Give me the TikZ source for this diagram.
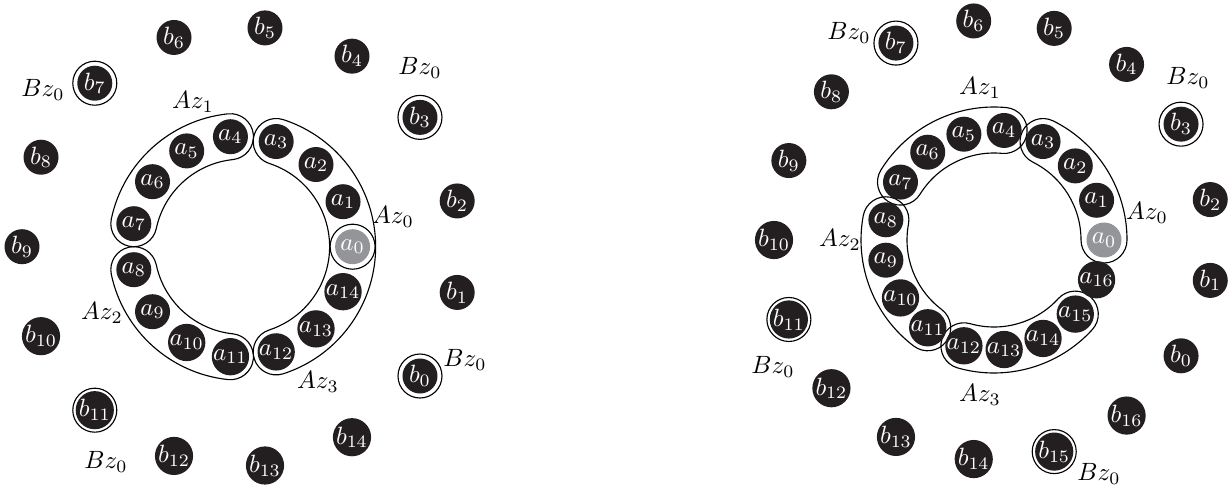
\documentclass[tikz,border=0pt]{standalone}
\usepackage{amsmath}
\usetikzlibrary{positioning}
\definecolor{dotblack}{RGB}{35,31,32}
\definecolor{dotgrey}{RGB}{147,149,152}
\tikzset{
  dot/.style={circle, fill=dotblack, text=white, minimum size=14pt, inner sep=0pt},
  zone/.style={draw, line width=0.45pt}
}

\begin{document}
\begin{tikzpicture}[x=0.4pt, y=0.4pt]
  \useasboundingbox (0,0) rectangle (1231,487);
  \begin{scope}[shift={(242,240.3)}]
    \foreach \s/\e in {-72/72, 96/168, 192/264}{
      \draw[zone] (\s:87.6) arc[start angle={\s+180}, end angle={\s+360}, radius=23]
        arc[start angle=\s, end angle=\e, radius=133.6]
        arc[start angle=\e, end angle={\e+180}, radius=23]
        arc[start angle=\e, end angle=\s, radius=87.6] -- cycle;
    }
    \node[dot, fill=dotgrey] (La0) at (0:110.6) {$a_{0}$};
    \draw[zone] (La0) circle[radius=22.5];
    \foreach \i in {1,...,14}
      \node[dot] (La\i) at ({24*\i}:110.6) {$a_{\i}$};
    \foreach \i in {0,...,14}
      \node[dot] (Lb\i) at ({24*\i-36}:220) {$b_{\i}$};
    \foreach \i in {0,3,7,11}
      \draw[zone] (Lb\i) circle[radius=22];
  \end{scope}
  \node (LAz0) at (393,270) {$Az_0$};
  \node (LAz1) at (193,385) {$Az_1$};
  \node (LAz2) at (102,174) {$Az_2$};
  \node (LAz3) at (318,105) {$Az_3$};
  \node (LBz3) at (420,419) {$Bz_0$};
  \node (LBz7) at (43,397) {$Bz_0$};
  \node (LBz11) at (106,25) {$Bz_0$};
  \node (LBz0) at (465,127) {$Bz_0$};

  \begin{scope}[shift={(994,247)}]
    \foreach \s/\e in {0/3, 4/7, 8/11, 12/15}{
      \draw[zone] ({\s*360/17}:87) arc[start angle={\s*360/17+180}, end angle={\s*360/17+360}, radius=23]
        arc[start angle={\s*360/17}, end angle={\e*360/17}, radius=133]
        arc[start angle={\e*360/17}, end angle={\e*360/17+180}, radius=23]
        arc[start angle={\e*360/17}, end angle={\s*360/17}, radius=87] -- cycle;
    }
    \node[dot, fill=dotgrey] (Ra0) at (0:110) {$a_{0}$};
    \foreach \i in {1,...,16}
      \node[dot] (Ra\i) at ({\i*360/17}:110) {$a_{\i}$};
    \foreach \i in {0,...,16}
      \node[dot] (Rb\i) at ({\i*360/17-31.76}:220) {$b_{\i}$};
    \foreach \i in {3,7,11,15}
      \draw[zone] (Rb\i) circle[radius=22];
  \end{scope}
  \node (RAz0) at (1147,274) {$Az_0$};
  \node (RAz1) at (980,399) {$Az_1$};
  \node (RAz2) at (840,247) {$Az_2$};
  \node (RAz3) at (980,92) {$Az_3$};
  \node (RBz3) at (1188,409) {$Bz_0$};
  \node (RBz7) at (849,454) {$Bz_0$};
  \node (RBz11) at (773,120) {$Bz_0$};
  \node (RBz15) at (1099,13) {$Bz_0$};
\end{tikzpicture}
\end{document}
